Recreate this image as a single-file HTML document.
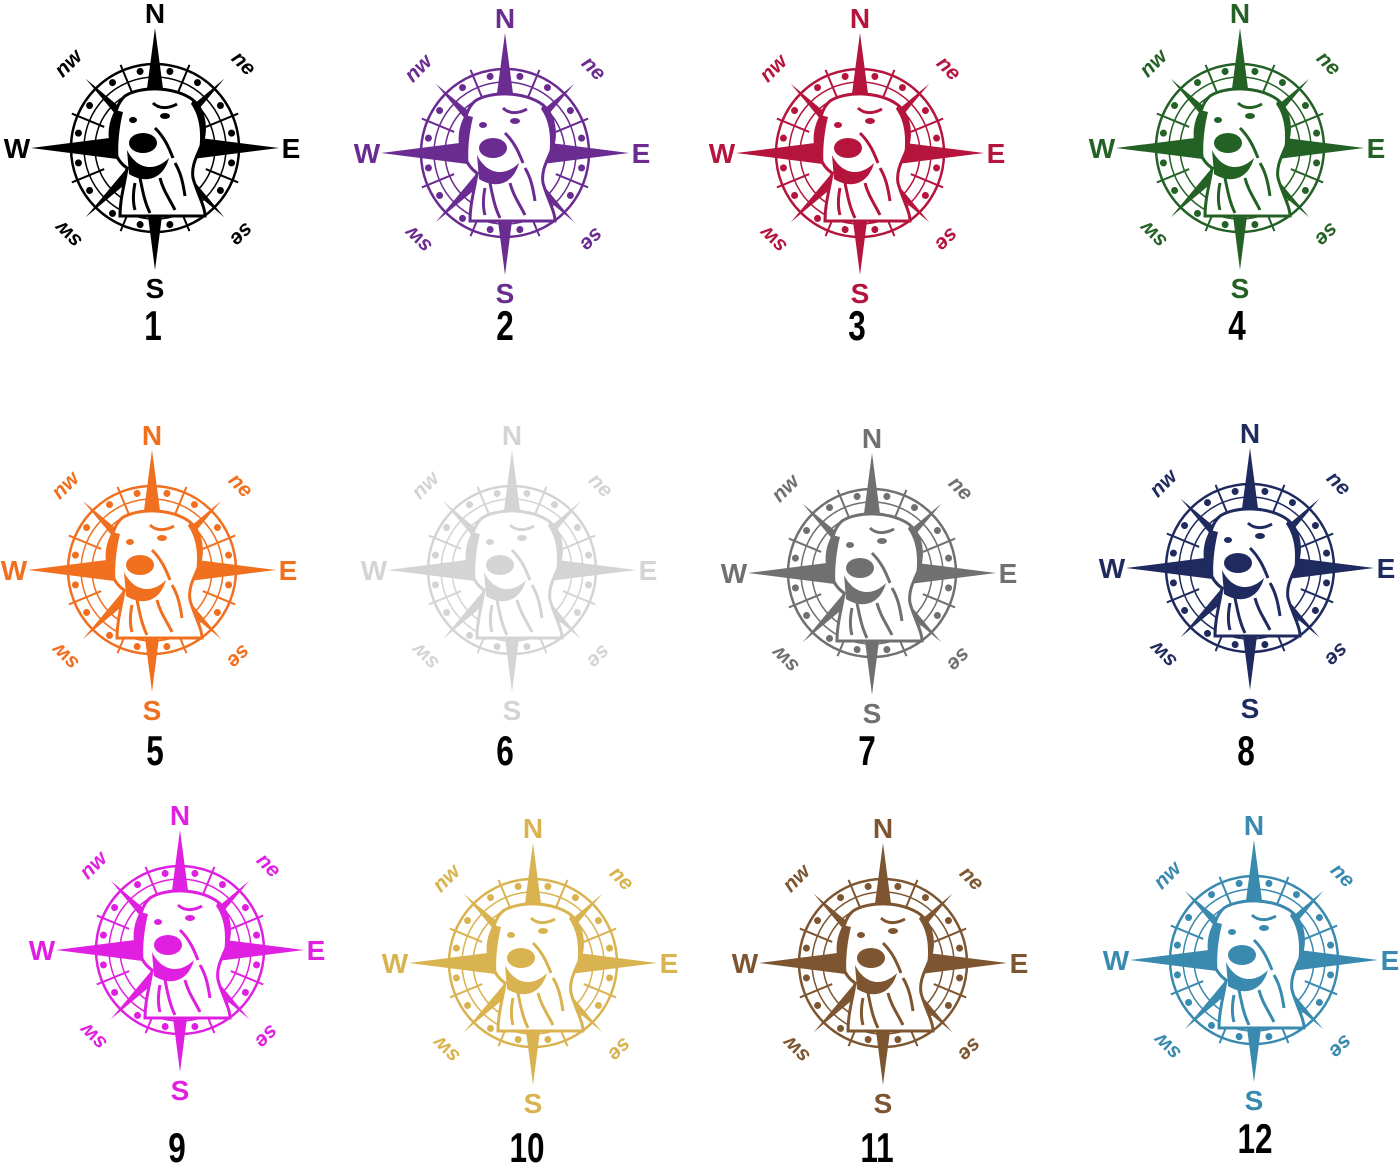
<!DOCTYPE html>
<html><head><meta charset="utf-8"><style>
html,body{margin:0;padding:0;background:#fff;width:1400px;height:1175px;overflow:hidden}
svg{display:block}
.l{font-family:"Liberation Sans",sans-serif;font-weight:bold;font-size:28px;text-anchor:middle}
.s{font-family:"Liberation Sans",sans-serif;font-weight:bold;font-style:italic;font-size:21px;text-anchor:middle}
.n{font-family:"Liberation Sans",sans-serif;font-weight:bold;font-size:42px;text-anchor:middle;fill:#000}
</style></head><body>
<svg width="1400" height="1175" viewBox="0 0 1400 1175" xmlns="http://www.w3.org/2000/svg">
<defs>
<g id="c">
 <circle r="84" fill="none" stroke="currentColor" stroke-width="2.5"/>
 <circle r="71" fill="none" stroke="currentColor" stroke-width="1.5"/>
 <circle r="60" fill="none" stroke="currentColor" stroke-width="1.5"/>
 <g fill="currentColor">
  <circle cx="0" cy="-78" r="3.5" transform="rotate(11)"/><circle cx="0" cy="-78" r="3.5" transform="rotate(-11)"/>
  <circle cx="0" cy="-78" r="3.5" transform="rotate(33)"/><circle cx="0" cy="-78" r="3.5" transform="rotate(-33)"/>
  <circle cx="0" cy="-78" r="3.5" transform="rotate(57)"/><circle cx="0" cy="-78" r="3.5" transform="rotate(-57)"/>
  <circle cx="0" cy="-78" r="3.5" transform="rotate(79)"/><circle cx="0" cy="-78" r="3.5" transform="rotate(-79)"/>
  <circle cx="0" cy="-78" r="3.5" transform="rotate(101)"/><circle cx="0" cy="-78" r="3.5" transform="rotate(-101)"/>
  <circle cx="0" cy="-78" r="3.5" transform="rotate(123)"/><circle cx="0" cy="-78" r="3.5" transform="rotate(-123)"/>
  <circle cx="0" cy="-78" r="3.5" transform="rotate(147)"/><circle cx="0" cy="-78" r="3.5" transform="rotate(-147)"/>
  <circle cx="0" cy="-78" r="3.5" transform="rotate(169)"/><circle cx="0" cy="-78" r="3.5" transform="rotate(-169)"/>
 </g>
 <g stroke="currentColor" stroke-width="2">
  <line x1="0" y1="-55" x2="0" y2="-90" transform="rotate(22.5)"/><line x1="0" y1="-55" x2="0" y2="-90" transform="rotate(67.5)"/>
  <line x1="0" y1="-55" x2="0" y2="-90" transform="rotate(112.5)"/><line x1="0" y1="-55" x2="0" y2="-90" transform="rotate(157.5)"/>
  <line x1="0" y1="-55" x2="0" y2="-90" transform="rotate(202.5)"/><line x1="0" y1="-55" x2="0" y2="-90" transform="rotate(247.5)"/>
  <line x1="0" y1="-55" x2="0" y2="-90" transform="rotate(292.5)"/><line x1="0" y1="-55" x2="0" y2="-90" transform="rotate(337.5)"/>
 </g>
 <polygon fill="currentColor" points="0,-98 8,-8 98,0 8,8 0,98 -8,8 -98,0 -8,-8" transform="rotate(45)"/>
 <polygon fill="currentColor" points="0,-120 14,-14 124,0 14,14 0,122 -14,14 -124,0 -14,-14"/>
 <path d="M-30,-52 C-15,-62 20,-62 38,-48 C50,-38 52,-18 46,-2 C42,8 36,18 38,30 C42,45 50,58 50,68 L-35,68 C-35,50 -30,35 -28,20 C-40,12 -45,-5 -42,-20 C-40,-35 -38,-45 -30,-52 Z" fill="#fff" stroke="currentColor" stroke-width="3"/>
 <path d="M-40,-38 C-50,-20 -48,0 -36,14 C-38,0 -36,-20 -32,-36 Z" fill="currentColor"/>
 <path d="M38,-48 C54,-35 54,-10 44,4 C46,-12 46,-30 36,-44 Z" fill="currentColor"/>
 <ellipse cx="-12" cy="-5" rx="14" ry="10" fill="currentColor"/>
 <path d="M-28,2 C-18,22 0,24 14,10 C8,32 -10,36 -26,26 Z" fill="currentColor"/>
 <ellipse cx="-22" cy="-28" rx="4" ry="3" fill="currentColor"/>
 <ellipse cx="10" cy="-32" rx="5" ry="3" fill="currentColor"/>
 <path d="M-2,-45 C5,-38 15,-40 22,-44 M0,-20 C10,-10 14,0 18,10 M-15,30 C-12,45 -10,55 -5,65 M5,30 C8,42 14,50 20,62 M20,15 C26,25 28,35 30,48 M-20,35 C-22,45 -22,55 -20,62" fill="none" stroke="currentColor" stroke-width="3"/>
</g>
</defs>

<g transform="translate(155,148)" style="color:#000" fill="#000"><use href="#c"/>
<text class="l" y="-125">N</text><text class="l" y="150">S</text><text class="l" x="-138" y="10">W</text><text class="l" x="136" y="10">E</text>
<text class="s" transform="translate(-82,-80) rotate(-45)">nw</text><text class="s" transform="translate(84,-80) rotate(45)">ne</text><text class="s" transform="translate(-82,82) rotate(225)">sw</text><text class="s" transform="translate(82,82) rotate(135)">se</text></g>
<text class="n" transform="translate(153,340) scale(0.75,1)">1</text>

<g transform="translate(505,153)" style="color:#6a2c91" fill="#6a2c91"><use href="#c"/>
<text class="l" y="-125">N</text><text class="l" y="150">S</text><text class="l" x="-138" y="10">W</text><text class="l" x="136" y="10">E</text>
<text class="s" transform="translate(-82,-80) rotate(-45)">nw</text><text class="s" transform="translate(84,-80) rotate(45)">ne</text><text class="s" transform="translate(-82,82) rotate(225)">sw</text><text class="s" transform="translate(82,82) rotate(135)">se</text></g>
<text class="n" transform="translate(505,340) scale(0.75,1)">2</text>

<g transform="translate(860,153)" style="color:#b5143c" fill="#b5143c"><use href="#c"/>
<text class="l" y="-125">N</text><text class="l" y="150">S</text><text class="l" x="-138" y="10">W</text><text class="l" x="136" y="10">E</text>
<text class="s" transform="translate(-82,-80) rotate(-45)">nw</text><text class="s" transform="translate(84,-80) rotate(45)">ne</text><text class="s" transform="translate(-82,82) rotate(225)">sw</text><text class="s" transform="translate(82,82) rotate(135)">se</text></g>
<text class="n" transform="translate(857,340) scale(0.75,1)">3</text>

<g transform="translate(1240,148)" style="color:#236125" fill="#236125"><use href="#c"/>
<text class="l" y="-125">N</text><text class="l" y="150">S</text><text class="l" x="-138" y="10">W</text><text class="l" x="136" y="10">E</text>
<text class="s" transform="translate(-82,-80) rotate(-45)">nw</text><text class="s" transform="translate(84,-80) rotate(45)">ne</text><text class="s" transform="translate(-82,82) rotate(225)">sw</text><text class="s" transform="translate(82,82) rotate(135)">se</text></g>
<text class="n" transform="translate(1237,340) scale(0.75,1)">4</text>

<g transform="translate(152,570)" style="color:#f07020" fill="#f07020"><use href="#c"/>
<text class="l" y="-125">N</text><text class="l" y="150">S</text><text class="l" x="-138" y="10">W</text><text class="l" x="136" y="10">E</text>
<text class="s" transform="translate(-82,-80) rotate(-45)">nw</text><text class="s" transform="translate(84,-80) rotate(45)">ne</text><text class="s" transform="translate(-82,82) rotate(225)">sw</text><text class="s" transform="translate(82,82) rotate(135)">se</text></g>
<text class="n" transform="translate(155,765) scale(0.75,1)">5</text>

<g transform="translate(512,570)" style="color:#d4d4d4" fill="#d4d4d4"><use href="#c"/>
<text class="l" y="-125">N</text><text class="l" y="150">S</text><text class="l" x="-138" y="10">W</text><text class="l" x="136" y="10">E</text>
<text class="s" transform="translate(-82,-80) rotate(-45)">nw</text><text class="s" transform="translate(84,-80) rotate(45)">ne</text><text class="s" transform="translate(-82,82) rotate(225)">sw</text><text class="s" transform="translate(82,82) rotate(135)">se</text></g>
<text class="n" transform="translate(505,765) scale(0.75,1)">6</text>

<g transform="translate(872,573)" style="color:#707070" fill="#707070"><use href="#c"/>
<text class="l" y="-125">N</text><text class="l" y="150">S</text><text class="l" x="-138" y="10">W</text><text class="l" x="136" y="10">E</text>
<text class="s" transform="translate(-82,-80) rotate(-45)">nw</text><text class="s" transform="translate(84,-80) rotate(45)">ne</text><text class="s" transform="translate(-82,82) rotate(225)">sw</text><text class="s" transform="translate(82,82) rotate(135)">se</text></g>
<text class="n" transform="translate(867,765) scale(0.75,1)">7</text>

<g transform="translate(1250,568)" style="color:#1f2a5f" fill="#1f2a5f"><use href="#c"/>
<text class="l" y="-125">N</text><text class="l" y="150">S</text><text class="l" x="-138" y="10">W</text><text class="l" x="136" y="10">E</text>
<text class="s" transform="translate(-82,-80) rotate(-45)">nw</text><text class="s" transform="translate(84,-80) rotate(45)">ne</text><text class="s" transform="translate(-82,82) rotate(225)">sw</text><text class="s" transform="translate(82,82) rotate(135)">se</text></g>
<text class="n" transform="translate(1246,765) scale(0.75,1)">8</text>

<g transform="translate(180,950)" style="color:#e020e0" fill="#e020e0"><use href="#c"/>
<text class="l" y="-125">N</text><text class="l" y="150">S</text><text class="l" x="-138" y="10">W</text><text class="l" x="136" y="10">E</text>
<text class="s" transform="translate(-82,-80) rotate(-45)">nw</text><text class="s" transform="translate(84,-80) rotate(45)">ne</text><text class="s" transform="translate(-82,82) rotate(225)">sw</text><text class="s" transform="translate(82,82) rotate(135)">se</text></g>
<text class="n" transform="translate(177,1162) scale(0.75,1)">9</text>

<g transform="translate(533,963)" style="color:#d9b34f" fill="#d9b34f"><use href="#c"/>
<text class="l" y="-125">N</text><text class="l" y="150">S</text><text class="l" x="-138" y="10">W</text><text class="l" x="136" y="10">E</text>
<text class="s" transform="translate(-82,-80) rotate(-45)">nw</text><text class="s" transform="translate(84,-80) rotate(45)">ne</text><text class="s" transform="translate(-82,82) rotate(225)">sw</text><text class="s" transform="translate(82,82) rotate(135)">se</text></g>
<text class="n" transform="translate(527,1162) scale(0.75,1)">10</text>

<g transform="translate(883,963)" style="color:#7d5530" fill="#7d5530"><use href="#c"/>
<text class="l" y="-125">N</text><text class="l" y="150">S</text><text class="l" x="-138" y="10">W</text><text class="l" x="136" y="10">E</text>
<text class="s" transform="translate(-82,-80) rotate(-45)">nw</text><text class="s" transform="translate(84,-80) rotate(45)">ne</text><text class="s" transform="translate(-82,82) rotate(225)">sw</text><text class="s" transform="translate(82,82) rotate(135)">se</text></g>
<text class="n" transform="translate(877,1162) scale(0.75,1)">11</text>

<g transform="translate(1254,960)" style="color:#3a8ab0" fill="#3a8ab0"><use href="#c"/>
<text class="l" y="-125">N</text><text class="l" y="150">S</text><text class="l" x="-138" y="10">W</text><text class="l" x="136" y="10">E</text>
<text class="s" transform="translate(-82,-80) rotate(-45)">nw</text><text class="s" transform="translate(84,-80) rotate(45)">ne</text><text class="s" transform="translate(-82,82) rotate(225)">sw</text><text class="s" transform="translate(82,82) rotate(135)">se</text></g>
<text class="n" transform="translate(1255,1153) scale(0.75,1)">12</text>
</svg>
</body></html>
